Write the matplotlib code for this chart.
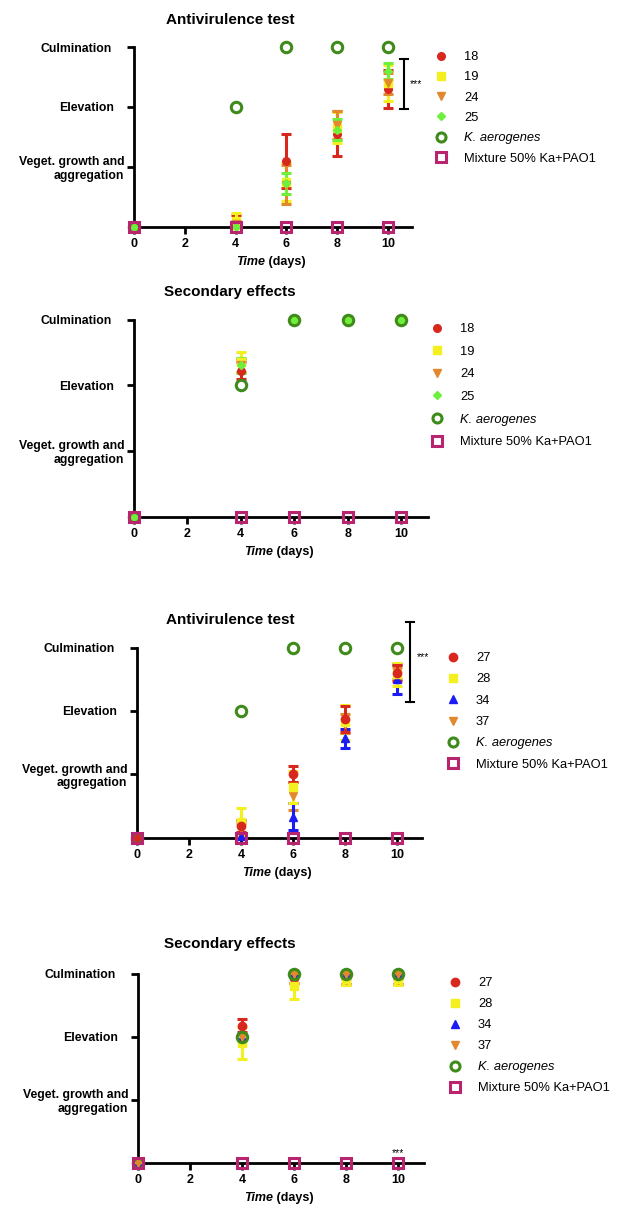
import matplotlib
matplotlib.use("Agg")
import matplotlib.pyplot as plt
from matplotlib.lines import Line2D
import numpy as np

plt.rcParams['font.family'] = ['Liberation Sans', 'DejaVu Sans']

# data
days = [0, 4, 6, 8, 10]
state_labels = ["", "Veget. growth and\naggregation", "Elevation", "Culmination"]
k_aerogenes = [0, 2, 3, 3, 3]
mixture = [0, 0, 0, 0, 0]

# panel 1 - antivirulence test, strains 18-25
anti1_names = ["18", "19", "24", "25"]
anti1_18 = [0, 0.10, 1.10, 1.55, 2.30]
anti1_18_err = [0, 0.10, 0.45, 0.38, 0.32]
anti1_19 = [0, 0.10, 0.75, 1.65, 2.40]
anti1_19_err = [0, 0.13, 0.32, 0.26, 0.30]
anti1_24 = [0, 0.05, 0.70, 1.70, 2.39]
anti1_24_err = [0, 0.05, 0.32, 0.23, 0.18]
anti1_25 = [0, 0, 0.72, 1.62, 2.60]
anti1_25_err = [0, 0, 0.18, 0.18, 0.14]

# panel 2 - secondary effects, strains 18-25
sec1_18 = [0, 2.22, 3, 3, 3]
sec1_18_err = [0, 0.13, 0, 0, 0]
sec1_19 = [0, 2.35, 3, 3, 3]
sec1_19_err = [0, 0.15, 0, 0, 0]
sec1_24 = [0, 2.30, 3, 3, 3]
sec1_24_err = [0, 0.10, 0, 0, 0]
sec1_25 = [0, 2.30, 3, 3, 3]
sec1_25_err = [0, 0.12, 0, 0, 0]

# panel 3 - antivirulence test, strains 27-37
anti2_names = ["27", "28", "34", "37"]
anti2_27 = [0, 0.18, 1.00, 1.87, 2.60]
anti2_27_err = [0, 0.10, 0.13, 0.20, 0.13]
anti2_28 = [0, 0.25, 0.80, 1.82, 2.58]
anti2_28_err = [0, 0.22, 0.25, 0.28, 0.18]
anti2_34 = [0, 0.02, 0.33, 1.57, 2.50]
anti2_34_err = [0, 0.02, 0.21, 0.15, 0.24]
anti2_37 = [0, 0.15, 0.65, 1.80, 2.60]
anti2_37_err = [0, 0.08, 0.22, 0.15, 0.10]

# panel 4 - secondary effects, strains 27-37
sec2_27 = [0, 2.17, 2.93, 2.92, 2.92]
sec2_27_err = [0, 0.10, 0.08, 0.08, 0.08]
sec2_28 = [0, 1.90, 2.80, 2.92, 2.92]
sec2_28_err = [0, 0.25, 0.20, 0.10, 0.10]
sec2_34 = [0, 2.0, 3, 3, 3]
sec2_34_err = [0, 0, 0, 0, 0]
sec2_37 = [0, 2.0, 3, 3, 3]
sec2_37_err = [0, 0, 0, 0, 0]

# significance brackets (top, bottom)
sig1 = (2.80, 1.97)
sig3 = (3.40, 2.14)

RED = '#d8281e'
YEL = '#f4f020'
ORA = '#e3892d'
GRN = '#6cf03c'
KGR = '#3e8b1b'
MAG = '#b8246e'
BLU = '#1c1cf5'

style1 = [(RED, 'o', 5.5), (YEL, 's', 5.5), (ORA, 'v', 6), (GRN, 'D', 4.5)]
style2 = [(RED, 'o', 6), (YEL, 's', 5.5), (BLU, '^', 6), (ORA, 'v', 6)]

W, H = 622, 1206
fig = plt.figure(figsize=(W / 100, H / 100), dpi=100)


def px_axes(x0, x10, xend, y0, y3):
    # axes from pixel positions of day 0, day 10, axis end, level 0 and level 3
    unit = (x10 - x0) / 10
    ax = fig.add_axes([x0 / W, 1 - y0 / H, (xend - x0) / W, (y0 - y3) / H])
    ax.set_xlim(0, (xend - x0) / unit)
    ax.set_ylim(0, 3)
    return ax


def panel(ax, names, means, errs, styles, order, title, title_y, leg_x, leg_y, leg_sp):
    handles = []
    for i in order:
        c, m, ms = styles[i]
        e = np.array(errs[i])
        idx = e > 0
        ax.errorbar(np.array(days)[idx], np.array(means[i])[idx], yerr=e[idx], fmt='none',
                    ecolor=c, elinewidth=2.2, capsize=3.8, capthick=2.2, clip_on=False, zorder=3)
    for i in order:
        c, m, ms = styles[i]
        ax.plot(days, means[i], ls='none', marker=m, color=c, ms=ms, clip_on=False, zorder=4)
    for i in range(len(names)):
        c, m, ms = styles[i]
        handles.append(Line2D([], [], ls='none', marker=m, color=c, ms=ms))
    ax.plot(days, k_aerogenes, ls='none', marker='o', mfc='none', mec=KGR, mew=2.2,
            ms=7.5, clip_on=False, zorder=5)
    ax.plot(days, mixture, ls='none', marker='s', mfc='none', mec=MAG, mew=2.2,
            ms=7.5, clip_on=False, zorder=6)
    handles.append(Line2D([], [], ls='none', marker='o', mfc='none', mec=KGR, mew=2.2, ms=6.5))
    handles.append(Line2D([], [], ls='none', marker='s', mfc='none', mec=MAG, mew=2.2, ms=6.5))
    labels = list(names) + ["K. aerogenes", "Mixture 50% Ka+PAO1"]

    for s in ['top', 'right']:
        ax.spines[s].set_visible(False)
    for s in ['left', 'bottom']:
        ax.spines[s].set_linewidth(2)
    ax.set_xticks([0, 2, 4, 6, 8, 10])
    ax.set_xticklabels(['0', '2', '4', '6', '8', '10'], fontsize=9, fontweight='bold')
    ax.set_yticks([0, 1, 2, 3])
    ax.set_yticklabels(state_labels, fontsize=8.8, fontweight='bold')
    ax.tick_params(axis='x', length=5, width=2, pad=3)
    ax.tick_params(axis='y', length=5, width=2, pad=2)
    ticks = ax.yaxis.get_major_ticks()
    ticks[0].tick1line.set_visible(False)
    ticks[2].set_pad(9.5)
    ticks[3].set_pad(11)

    t1 = ax.annotate('Time', xy=(0.5, 0), xycoords='axes fraction', xytext=(-6, -21),
                     textcoords='offset points', ha='right', va='top',
                     fontsize=9, fontweight='bold', fontstyle='italic')
    ax.annotate(' (days)', xy=(1, 0), xycoords=t1, ha='left', va='bottom',
                fontsize=9, fontweight='bold')

    fig.text(230 / W, 1 - title_y / H, title, ha='center', va='center',
             fontsize=11, fontweight='bold')

    leg = fig.legend(handles, labels, loc='upper left', bbox_to_anchor=(leg_x / W, 1 - leg_y / H),
                     frameon=False, borderpad=0, borderaxespad=0, handlelength=1,
                     handletextpad=1.25, labelspacing=leg_sp, fontsize=9.3)
    leg.get_texts()[4].set_fontstyle('italic')


def bracket(ax, x, top, bottom, xs, ys):
    ax.plot([x, x], [bottom, top], color='black', lw=1.5, clip_on=False)
    ax.plot([x - 0.15, x + 0.15], [top, top], color='black', lw=1.5, clip_on=False)
    ax.plot([x - 0.15, x + 0.15], [bottom, bottom], color='black', lw=1.5, clip_on=False)
    ax.text(xs, ys, '***', fontsize=7.5, ha='left', va='center')


ax1 = px_axes(134, 388, 412, 226.5, 47)
panel(ax1, anti1_names, [anti1_18, anti1_19, anti1_24, anti1_25],
      [anti1_18_err, anti1_19_err, anti1_24_err, anti1_25_err], style1, [0, 1, 2, 3],
      'Antivirulence test', 20, 435, 51, 0.64)
bracket(ax1, 10.63, sig1[0], sig1[1], 10.85, (sig1[0] + sig1[1]) / 2)

ax2 = px_axes(134, 401, 428, 516.5, 319.5)
panel(ax2, anti1_names, [sec1_18, sec1_19, sec1_24, sec1_25],
      [sec1_18_err, sec1_19_err, sec1_24_err, sec1_25_err], style1, [0, 1, 2, 3],
      'Secondary effects', 292, 431, 323, 0.82)

ax3 = px_axes(137, 397, 422, 837.5, 647.5)
panel(ax3, anti2_names, [anti2_27, anti2_28, anti2_34, anti2_37],
      [anti2_27_err, anti2_28_err, anti2_34_err, anti2_37_err], style2, [3, 2, 1, 0],
      'Antivirulence test', 620, 447, 652, 0.72)
bracket(ax3, 10.5, sig3[0], sig3[1], 10.75, 2.85)

ax4 = px_axes(138, 398, 424, 1162.5, 973.5)
panel(ax4, anti2_names, [sec2_27, sec2_28, sec2_34, sec2_37],
      [sec2_27_err, sec2_28_err, sec2_34_err, sec2_37_err], style2, [0, 1, 2, 3],
      'Secondary effects', 944, 449, 977, 0.70)
ax4.text(10, 0.15, '***', fontsize=7.5, ha='center', va='center')

fig.savefig('out.png', dpi=100)
